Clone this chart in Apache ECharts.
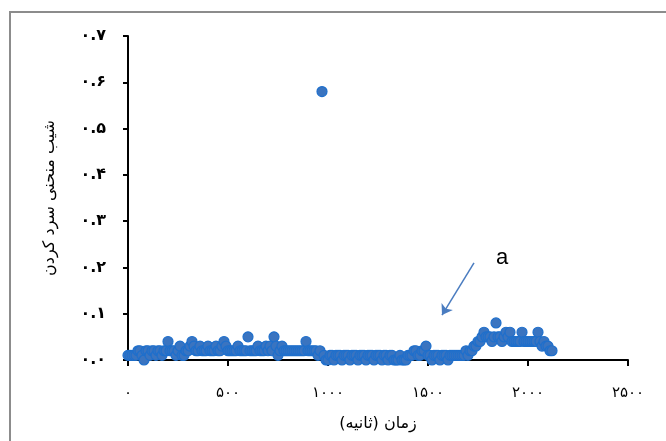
<!DOCTYPE html>
<html>
<head>
<meta charset="utf-8">
<script src="https://cdn.jsdelivr.net/npm/echarts@6/dist/echarts.min.js"></script>
<style>html,body{margin:0;padding:0;background:#fff}#c{width:666px;height:441px}</style>
</head>
<body>
<div id="c"></div>
<script>
// time (s)
const times = [
  0,10,20,30,40,50,60,70,80,90,100,
  110,120,130,140,150,160,170,180,190,200,
  210,220,230,240,250,260,270,280,290,300,
  310,320,330,340,350,360,370,380,390,400,
  410,420,430,440,450,460,470,480,490,500,
  510,520,530,540,550,560,570,580,590,600,
  610,620,630,640,650,660,670,680,690,700,
  710,720,730,740,750,760,770,780,790,800,
  810,820,830,840,850,860,870,880,890,900,
  910,920,930,940,950,960,970,980,990,1000,
  1010,1020,1030,1040,1050,1060,1070,1080,1090,1100,
  1110,1120,1130,1140,1150,1160,1170,1180,1190,1200,
  1210,1220,1230,1240,1250,1260,1270,1280,1290,1300,
  1310,1320,1330,1340,1350,1360,1370,1380,1390,1400,
  1410,1420,1430,1440,1450,1460,1470,1480,1490,1500,
  1510,1520,1530,1540,1550,1560,1570,1580,1590,1600,
  1610,1620,1630,1640,1650,1660,1670,1680,1690,1700,
  1710,1720,1730,1740,1750,1760,1770,1780,1790,1800,
  1810,1820,1830,1840,1850,1860,1870,1880,1890,1900,
  1910,1920,1930,1940,1950,1960,1970,1980,1990,2000,
  2010,2020,2030,2040,2050,2060,2070,2080,2090,2100,
  2110,2120];
// cooling-curve slope
const slopes = [
  0.01,0.01,0.01,0.01,0.01,0.02,0.02,0.01,0.00,0.02,0.02,
  0.01,0.02,0.02,0.01,0.02,0.02,0.01,0.02,0.02,0.04,
  0.02,0.02,0.02,0.01,0.02,0.03,0.01,0.01,0.02,0.02,
  0.03,0.04,0.03,0.02,0.02,0.03,0.02,0.02,0.02,0.03,
  0.02,0.02,0.02,0.03,0.02,0.02,0.03,0.04,0.03,0.02,
  0.02,0.02,0.02,0.02,0.03,0.02,0.02,0.02,0.02,0.05,
  0.02,0.02,0.02,0.02,0.03,0.02,0.02,0.02,0.03,0.02,
  0.03,0.02,0.05,0.03,0.01,0.02,0.03,0.02,0.02,0.02,
  0.02,0.02,0.02,0.02,0.02,0.02,0.02,0.02,0.04,0.02,
  0.02,0.02,0.02,0.02,0.01,0.02,0.58,0.01,0.00,0.00,
  0.01,0.01,0.00,0.01,0.01,0.01,0.00,0.01,0.01,0.01,
  0.00,0.01,0.01,0.01,0.00,0.01,0.01,0.01,0.00,0.01,
  0.01,0.01,0.00,0.01,0.01,0.01,0.00,0.01,0.01,0.00,
  0.01,0.01,0.00,0.00,0.00,0.01,0.00,0.00,0.00,0.01,
  0.01,0.01,0.02,0.02,0.01,0.01,0.02,0.02,0.03,0.01,
  0.01,0.00,0.01,0.01,0.01,0.00,0.01,0.01,0.01,0.00,
  0.01,0.01,0.01,0.01,0.01,0.01,0.01,0.01,0.02,0.01,
  0.02,0.02,0.03,0.03,0.04,0.04,0.05,0.06,0.05,0.05,
  0.05,0.04,0.05,0.08,0.05,0.05,0.04,0.05,0.06,0.05,
  0.06,0.04,0.04,0.04,0.04,0.04,0.06,0.04,0.04,0.04,
  0.04,0.04,0.04,0.04,0.06,0.04,0.03,0.04,0.03,0.03,
  0.02,0.02];
const xTicks = [0,500,1000,1500,2000,2500];
const yTicks = [0,0.1,0.2,0.3,0.4,0.5,0.6,0.7];
const xTitle = 'زمان (ثانیه)';
const yTitle = 'شیب منحنی سرد کردن';
const annotText = 'a';
const annotFrom = [1730, 0.21];
const annotTo = [1570, 0.097];
const annotLabelAt = [1870, 0.22];

const fa = s => String(s).replace(/[0-9]/g, d => '۰۱۲۳۴۵۶۷۸۹'[+d]);
const pts = times.map((t, i) => [t, slopes[i]]);
const font = 'DejaVu Sans';

const chart = echarts.init(document.getElementById('c'));
chart.setOption({
  animation: false,
  backgroundColor: '#fff',
  grid: {left: 128, right: 38, top: 36, bottom: 81},
  graphic: [{type: 'rect', shape: {x: 10, y: 12, width: 720, height: 520},
    style: {fill: 'none', stroke: '#8c8c8c', lineWidth: 2}, silent: true}],
  xAxis: {
    type: 'value', min: xTicks[0], max: xTicks[xTicks.length - 1], interval: 500,
    name: xTitle, nameLocation: 'middle', nameGap: 56,
    nameTextStyle: {fontFamily: font, fontSize: 16, color: '#000'},
    axisLine: {onZero: false, lineStyle: {color: '#000', width: 2}},
    axisTick: {show: true, length: 6, lineStyle: {color: '#000', width: 2}},
    axisLabel: {margin: 26, fontFamily: font, fontSize: 15, color: '#000',
      formatter: v => fa(v)},
    splitLine: {show: false}
  },
  yAxis: {
    type: 'value', min: yTicks[0], max: yTicks[yTicks.length - 1], interval: 0.1,
    name: yTitle, nameLocation: 'middle', nameGap: 70, nameRotate: 90,
    nameTextStyle: {fontFamily: font, fontSize: 16, color: '#000'},
    axisLine: {show: true, lineStyle: {color: '#000', width: 2}},
    axisTick: {show: true, length: 5, lineStyle: {color: '#000', width: 2}},
    axisLabel: {margin: 22, fontFamily: font, fontSize: 16, fontWeight: 'bold', color: '#000',
      formatter: v => fa(v.toFixed(1))},
    splitLine: {show: false}
  },
  series: [{
    type: 'scatter',
    data: pts,
    symbol: 'circle',
    symbolSize: 10,
    itemStyle: {color: '#3A74C0', borderColor: '#1E6FCC', borderWidth: 1.2, opacity: 1},
    markLine: {
      silent: true, symbol: ['none', 'arrow'], symbolSize: 10,
      lineStyle: {color: '#4A7CC0', width: 1.5, type: 'solid'},
      label: {show: false},
      data: [[{coord: annotFrom}, {coord: annotTo}]]
    },
    markPoint: {
      silent: true, symbol: 'circle', symbolSize: 1, itemStyle: {color: 'rgba(0,0,0,0)'},
      label: {show: true, formatter: annotText, fontFamily: 'Liberation Sans', fontSize: 22, color: '#000', position: 'inside'},
      data: [{coord: annotLabelAt}]
    }
  }]
});
</script>
</body>
</html>
